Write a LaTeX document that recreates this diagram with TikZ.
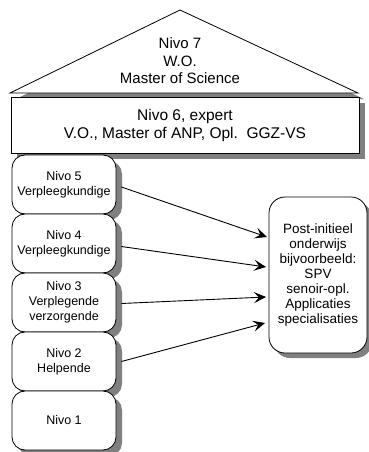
\documentclass[tikz,border=0pt]{standalone}
\usepackage{fontspec}
\setmainfont{Liberation Sans}
\usetikzlibrary{arrows.meta,shadows}
\begin{document}
\begin{tikzpicture}[x=1pt,y=-1pt,
  shadowfill/.style={fill=black!50},
  myshadow/.style={drop shadow={shadow xshift=6pt,shadow yshift=-6pt,fill=black!50,opacity=1}},
  lvl/.style={draw, fill=white, rounded corners=13pt, minimum width=104pt, minimum height=59pt,
    align=center, font=\fontsize{12.5}{15}\selectfont, inner sep=0pt, line width=0.8pt, myshadow},
  arr/.style={-{Stealth[length=12pt,width=11pt,inset=5pt]}, line width=0.9pt}
]
\useasboundingbox (0,0) rectangle (369,452);
% roof
\fill[shadowfill] (186,15) -- (16,99) -- (364,99) -- cycle;
\filldraw[fill=white, line width=0.8pt] (180,10) -- (10,93) -- (358,93) -- cycle;
\node[align=center, font=\fontsize{15}{17.5}\selectfont] (n7) at (180,61) {Nivo 7\\W.O.\\Master of Science};
% level 6
\node[draw, fill=white, minimum width=348pt, minimum height=56pt, inner sep=0pt, line width=0.8pt,
  align=center, font=\fontsize{15.5}{18}\selectfont, myshadow] (n6) at (185,125)
  {Nivo 6, expert\\V.O., Master of ANP, Opl.\ \ GGZ-VS};
% levels 5..1
\node[lvl] (n5) at (64,184.5) {Nivo 5\\Verpleegkundige};
\node[lvl] (n4) at (64,243.5) {Nivo 4\\Verpleegkundige};
\node[lvl] (n3) at (64,302.5) {Nivo 3\\Verplegende\\verzorgende};
\node[lvl] (n2) at (64,361.5) {Nivo 2\\Helpende};
\node[lvl] (n1) at (64,420.5) {Nivo 1};
% post-initial
\node[draw, fill=white, rounded corners=16pt, minimum width=98pt, minimum height=156pt, inner sep=0pt,
  line width=0.8pt, align=center, font=\fontsize{13.5}{15}\selectfont,
  drop shadow={shadow xshift=5pt,shadow yshift=-5pt,fill=black!50,opacity=1}] (post) at (318,275)
  {Post-initieel\\onderwijs\\bijvoorbeeld:\\SPV\\senoir-opl.\\Applicaties\\specialisaties};
\coordinate (e5) at (267,237);
\coordinate (e4) at (266,267);
\coordinate (e3) at (266,297);
\coordinate (e2) at (265,323);
\draw[arr] ([xshift=5pt,yshift=-2.5pt]n5.east) -- (e5);
\draw[arr] ([xshift=5pt,yshift=-3pt]n4.east) -- (e4);
\draw[arr] ([xshift=5pt,yshift=-1pt]n3.east) -- (e3);
\draw[arr] ([xshift=5pt]n2.east) -- (e2);
\end{tikzpicture}
\end{document}
